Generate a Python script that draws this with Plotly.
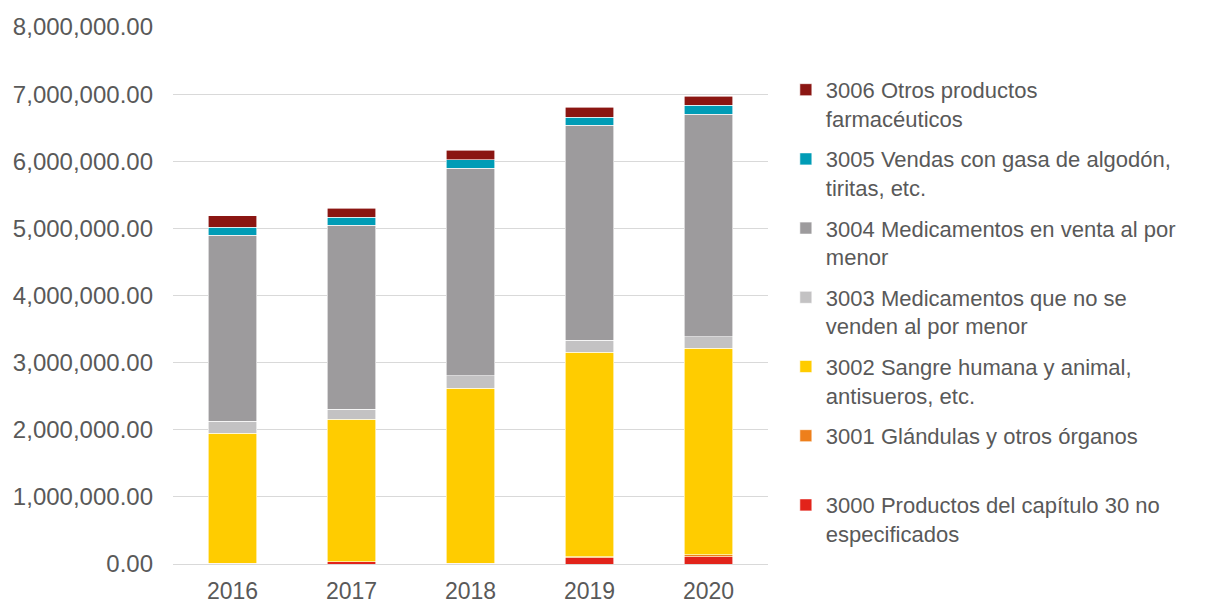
import plotly.graph_objects as go

years = ["2016", "2017", "2018", "2019", "2020"]

series_names = [
    "3000 Productos del capítulo 30 no<br>especificados",
    "3001 Glándulas y otros órganos<br> ",
    "3002 Sangre humana y animal,<br>antisueros, etc.",
    "3003 Medicamentos que no se<br>venden al por menor",
    "3004 Medicamentos en venta al por<br>menor",
    "3005 Vendas con gasa de algodón,<br>tiritas, etc.",
    "3006 Otros productos<br>farmacéuticos",
]

v3000 = [5000, 30000, 5000, 94000, 109000]
v3001 = [5000, 5000, 5000, 15000, 30000]
v3002 = [1937000, 2125000, 2607000, 3045000, 3074000]
v3003 = [183000, 149000, 188000, 183000, 169000]
v3004 = [2771000, 2736000, 3094000, 3203000, 3317000]
v3005 = [119000, 119000, 120000, 119000, 139000]
v3006 = [165000, 134000, 144000, 149000, 134000]

series_values = [v3000, v3001, v3002, v3003, v3004, v3005, v3006]
colors = ["#E2231A", "#EE7F1B", "#FFCC00", "#C3C2C3", "#9D9B9D", "#009CB6", "#8B1612"]

fig = go.Figure()
n = len(series_names)
for i, (name, vals, col) in enumerate(zip(series_names, series_values, colors)):
    fig.add_trace(go.Bar(
        x=years, y=vals, name=name,
        marker=dict(color=col, line=dict(color="white", width=0.6)),
        legendgroup=f"g{i}",
        legendrank=n - i,
    ))

font_color = "#595959"
FS = 22
fig.update_layout(
    barmode="stack",
    bargap=0.59,
    width=1213, height=603,
    margin=dict(l=165, r=453, t=19, b=47),
    plot_bgcolor="white", paper_bgcolor="white",
    font=dict(family="Liberation Sans, Arial, sans-serif", size=FS, color=font_color),
    showlegend=True,
    legend=dict(
        traceorder="grouped",
        x=1.03, xanchor="left",
        y=0.922, yanchor="top",
        valign="top",
        tracegroupgap=9,
        font=dict(size=FS, color=font_color),
        itemwidth=30,
        bgcolor="rgba(0,0,0,0)",
    ),
    xaxis=dict(
        automargin=False,
        showline=True, linecolor="#D9D9D9", linewidth=1,
        ticks="", ticklabelstandoff=6,
        tickfont=dict(size=23, color=font_color),
    ),
    yaxis=dict(
        automargin=False,
        range=[0, 8000000], dtick=1000000, tickformat=",.2f",
        showgrid=True, gridcolor="#D9D9D9", gridwidth=1,
        zeroline=False, ticks="", ticklen=0, ticklabelstandoff=19,
        tickfont=dict(size=24, color=font_color),
    ),
)

fig.write_html("out.html")
